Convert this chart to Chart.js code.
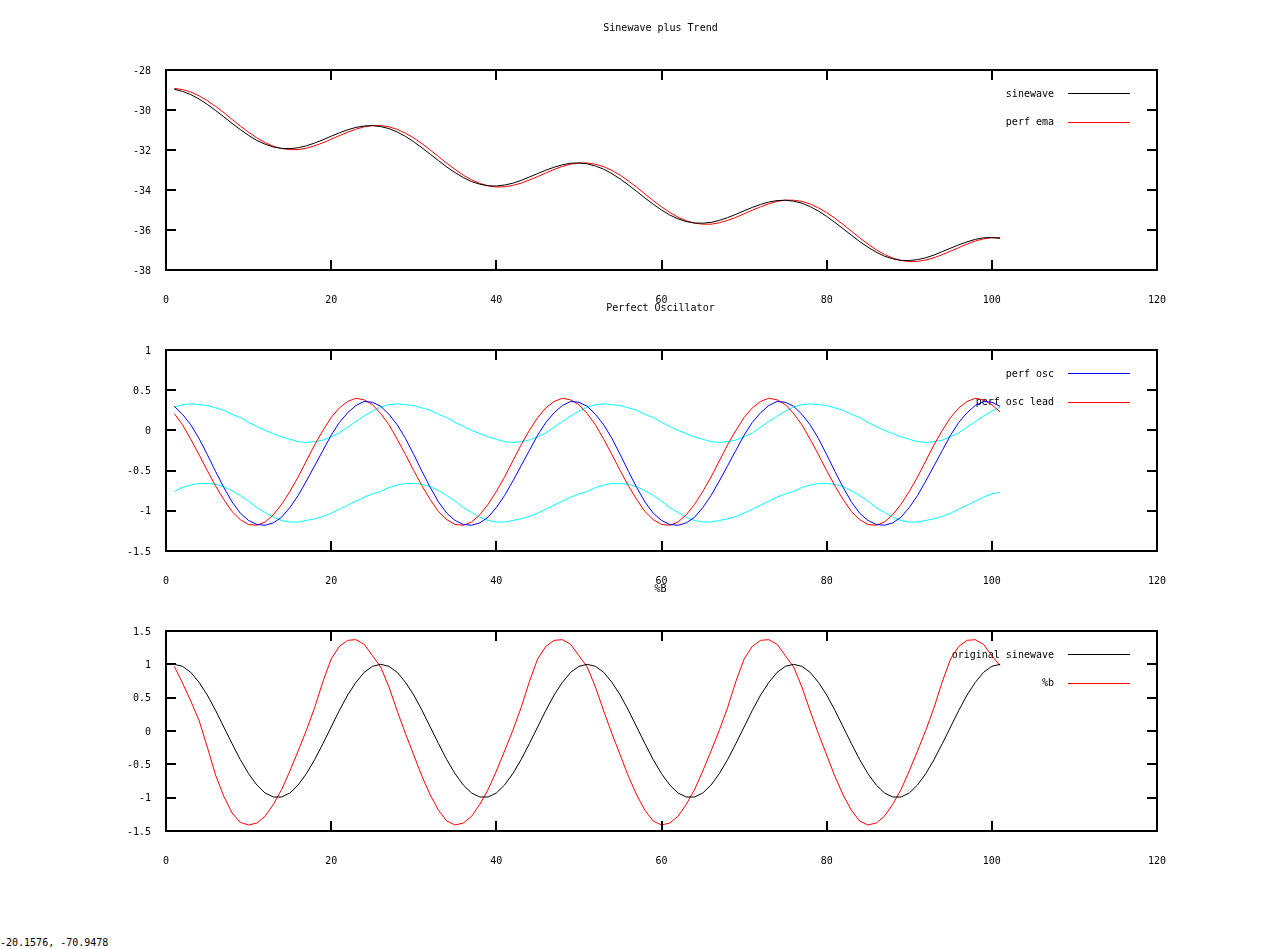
<!DOCTYPE html>
<html lang="en">
<head>
<meta charset="UTF-8">
<title>Sinewave plus Trend</title>
<script src="https://cdn.jsdelivr.net/npm/chart.js@4/dist/chart.umd.min.js"></script>
<style>
  html, body { margin: 0; padding: 0; background: #fff; }
  body { width: 1280px; height: 949px; position: relative; overflow: hidden; }
  canvas { position: absolute; left: 0; }
  #coords {
    position: absolute; left: 0; top: 937px;
    font: 10px "DejaVu Sans Mono", monospace; color: #000; white-space: pre;
  }
</style>
</head>
<body>
<canvas id="c1" width="1280" height="310" style="top:0px"></canvas>
<canvas id="c2" width="1280" height="300" style="top:290px"></canvas>
<canvas id="c3" width="1280" height="300" style="top:570px"></canvas>
<div id="coords">-20.1576, -70.9478</div>

<script>
// x positions of the samples (bar index)
var xValues = [1,2,3,4,5,6,7,8,9,10,11,12,13,14,15,16,17,18,19,20,21,22,23,24,25,
  26,27,28,29,30,31,32,33,34,35,36,37,38,39,40,41,42,43,44,45,46,47,48,49,50,
  51,52,53,54,55,56,57,58,59,60,61,62,63,64,65,66,67,68,69,70,71,72,73,74,75,
  76,77,78,79,80,81,82,83,84,85,86,87,88,89,90,91,92,93,94,95,96,97,98,99,100,101];

// Panel 1 : Sinewave plus Trend
var sinewave = [-28.96,-29.07,-29.23,-29.45,-29.72,-30.02,-30.34,-30.67,-30.98,-31.27,-31.52,-31.71,-31.85,-31.92,-31.93,-31.89,-31.79,-31.65,-31.49,-31.31,-31.14,-30.99,-30.87,-30.80,-30.78,
  -30.83,-30.93,-31.10,-31.32,-31.59,-31.89,-32.21,-32.53,-32.85,-33.13,-33.38,-33.58,-33.71,-33.79,-33.80,-33.75,-33.66,-33.52,-33.35,-33.18,-33.01,-32.86,-32.74,-32.66,-32.65,
  -32.69,-32.80,-32.96,-33.18,-33.45,-33.75,-34.07,-34.40,-34.71,-35.00,-35.25,-35.44,-35.58,-35.65,-35.66,-35.62,-35.52,-35.38,-35.22,-35.04,-34.87,-34.72,-34.60,-34.53,-34.51,
  -34.56,-34.66,-34.83,-35.05,-35.32,-35.62,-35.94,-36.26,-36.58,-36.86,-37.11,-37.31,-37.44,-37.52,-37.53,-37.48,-37.39,-37.25,-37.08,-36.91,-36.74,-36.59,-36.47,-36.39,-36.38,-36.42];
var perfEma = [-28.92,-28.98,-29.10,-29.29,-29.53,-29.82,-30.13,-30.47,-30.80,-31.11,-31.39,-31.63,-31.81,-31.93,-31.98,-31.98,-31.91,-31.79,-31.64,-31.46,-31.28,-31.11,-30.96,-30.84,-30.78,
  -30.78,-30.84,-30.97,-31.16,-31.40,-31.68,-32.00,-32.33,-32.66,-32.97,-33.26,-33.49,-33.67,-33.79,-33.85,-33.84,-33.77,-33.66,-33.50,-33.33,-33.15,-32.97,-32.82,-32.71,-32.65,
  -32.65,-32.71,-32.83,-33.02,-33.26,-33.55,-33.86,-34.20,-34.53,-34.84,-35.12,-35.36,-35.54,-35.66,-35.71,-35.71,-35.64,-35.52,-35.37,-35.19,-35.01,-34.84,-34.69,-34.57,-34.51,
  -34.51,-34.57,-34.70,-34.89,-35.13,-35.41,-35.73,-36.06,-36.39,-36.70,-36.99,-37.22,-37.40,-37.52,-37.58,-37.57,-37.50,-37.39,-37.23,-37.06,-36.88,-36.70,-36.55,-36.44,-36.38,-36.38];

// Panel 2 : Perfect Oscillator
var perfOsc = [0.30,0.20,0.07,-0.10,-0.30,-0.51,-0.71,-0.89,-1.03,-1.12,-1.17,-1.18,-1.15,-1.08,-0.96,-0.81,-0.63,-0.44,-0.25,-0.06,0.10,0.22,0.31,0.36,0.35,
  0.30,0.20,0.07,-0.10,-0.30,-0.51,-0.71,-0.89,-1.03,-1.12,-1.17,-1.18,-1.15,-1.08,-0.96,-0.81,-0.63,-0.44,-0.25,-0.06,0.10,0.22,0.31,0.36,0.35,
  0.30,0.20,0.07,-0.10,-0.30,-0.51,-0.71,-0.89,-1.03,-1.12,-1.17,-1.18,-1.15,-1.08,-0.96,-0.81,-0.63,-0.44,-0.25,-0.06,0.10,0.22,0.31,0.36,0.35,
  0.30,0.20,0.07,-0.10,-0.30,-0.51,-0.71,-0.89,-1.03,-1.12,-1.17,-1.18,-1.15,-1.08,-0.96,-0.81,-0.63,-0.44,-0.25,-0.06,0.10,0.22,0.31,0.36,0.35,0.30];
var perfOscLead = [0.21,0.07,-0.11,-0.30,-0.50,-0.69,-0.86,-1.01,-1.11,-1.17,-1.18,-1.14,-1.05,-0.92,-0.76,-0.58,-0.38,-0.18,0.00,0.16,0.28,0.36,0.40,0.38,0.32,
  0.21,0.07,-0.11,-0.30,-0.50,-0.69,-0.86,-1.01,-1.11,-1.17,-1.18,-1.14,-1.05,-0.92,-0.76,-0.58,-0.38,-0.18,0.00,0.16,0.28,0.36,0.40,0.38,0.32,
  0.21,0.07,-0.11,-0.30,-0.50,-0.69,-0.86,-1.01,-1.11,-1.17,-1.18,-1.14,-1.05,-0.92,-0.76,-0.58,-0.38,-0.18,0.00,0.16,0.28,0.36,0.40,0.38,0.32,
  0.21,0.07,-0.11,-0.30,-0.50,-0.69,-0.86,-1.01,-1.11,-1.17,-1.18,-1.14,-1.05,-0.92,-0.76,-0.58,-0.38,-0.18,0.00,0.16,0.28,0.36,0.40,0.38,0.32,0.23];
var upperBand = [0.29,0.32,0.33,0.32,0.31,0.28,0.25,0.20,0.16,0.10,0.05,0.00,-0.04,-0.08,-0.11,-0.14,-0.15,-0.14,-0.12,-0.08,-0.03,0.04,0.11,0.18,0.24,
  0.29,0.32,0.33,0.32,0.31,0.28,0.25,0.20,0.16,0.10,0.05,0.00,-0.04,-0.08,-0.11,-0.14,-0.15,-0.14,-0.12,-0.08,-0.03,0.04,0.11,0.18,0.24,
  0.29,0.32,0.33,0.32,0.31,0.28,0.25,0.20,0.16,0.10,0.05,0.00,-0.04,-0.08,-0.11,-0.14,-0.15,-0.14,-0.12,-0.08,-0.03,0.04,0.11,0.18,0.24,
  0.29,0.32,0.33,0.32,0.31,0.28,0.25,0.20,0.16,0.10,0.05,0.00,-0.04,-0.08,-0.11,-0.14,-0.15,-0.14,-0.12,-0.08,-0.03,0.04,0.11,0.18,0.24,0.29];
var lowerBand = [-0.76,-0.71,-0.68,-0.66,-0.66,-0.67,-0.70,-0.75,-0.81,-0.88,-0.96,-1.02,-1.08,-1.12,-1.14,-1.14,-1.12,-1.10,-1.07,-1.03,-0.98,-0.93,-0.88,-0.83,-0.79,
  -0.76,-0.71,-0.68,-0.66,-0.66,-0.67,-0.70,-0.75,-0.81,-0.88,-0.96,-1.02,-1.08,-1.12,-1.14,-1.14,-1.12,-1.10,-1.07,-1.03,-0.98,-0.93,-0.88,-0.83,-0.79,
  -0.76,-0.71,-0.68,-0.66,-0.66,-0.67,-0.70,-0.75,-0.81,-0.88,-0.96,-1.02,-1.08,-1.12,-1.14,-1.14,-1.12,-1.10,-1.07,-1.03,-0.98,-0.93,-0.88,-0.83,-0.79,
  -0.76,-0.71,-0.68,-0.66,-0.66,-0.67,-0.70,-0.75,-0.81,-0.88,-0.96,-1.02,-1.08,-1.12,-1.14,-1.14,-1.12,-1.10,-1.07,-1.03,-0.98,-0.93,-0.88,-0.83,-0.79,-0.77];

// Panel 3 : %B
var originalSinewave = [1,0.97,0.88,0.73,0.54,0.31,0.06,-0.19,-0.43,-0.64,-0.81,-0.93,-0.99,-0.99,-0.93,-0.81,-0.64,-0.43,-0.19,0.06,0.31,0.54,0.73,0.88,0.97,
  1,0.97,0.88,0.73,0.54,0.31,0.06,-0.19,-0.43,-0.64,-0.81,-0.93,-0.99,-0.99,-0.93,-0.81,-0.64,-0.43,-0.19,0.06,0.31,0.54,0.73,0.88,0.97,
  1,0.97,0.88,0.73,0.54,0.31,0.06,-0.19,-0.43,-0.64,-0.81,-0.93,-0.99,-0.99,-0.93,-0.81,-0.64,-0.43,-0.19,0.06,0.31,0.54,0.73,0.88,0.97,
  1,0.97,0.88,0.73,0.54,0.31,0.06,-0.19,-0.43,-0.64,-0.81,-0.93,-0.99,-0.99,-0.93,-0.81,-0.64,-0.43,-0.19,0.06,0.31,0.54,0.73,0.88,0.97,1];
var percentB = [0.97,0.72,0.45,0.16,-0.24,-0.66,-0.98,-1.23,-1.37,
  -1.41,-1.38,-1.28,-1.10,-0.88,-0.60,-0.30,0.01,0.35,0.74,1.08,1.27,1.36,1.37,1.30,1.13,0.96,0.66,0.30,-0.04,-0.36,-0.68,-0.96,-1.19,-1.35,
  -1.41,-1.38,-1.28,-1.10,-0.88,-0.60,-0.30,0.01,0.35,0.74,1.08,1.27,1.36,1.37,1.30,1.13,0.96,0.66,0.30,-0.04,-0.36,-0.68,-0.96,-1.19,-1.35,
  -1.41,-1.38,-1.28,-1.10,-0.88,-0.60,-0.30,0.01,0.35,0.74,1.08,1.27,1.36,1.37,1.30,1.13,0.96,0.66,0.30,-0.04,-0.36,-0.68,-0.96,-1.19,-1.35,
  -1.41,-1.38,-1.28,-1.10,-0.88,-0.60,-0.30,0.01,0.35,0.74,1.08,1.27,1.36,1.37,1.30,1.13,0.98];

var FONT = '"DejaVu Sans Mono", monospace';
Chart.defaults.font.family = FONT;
Chart.defaults.font.size = 10;
Chart.defaults.color = '#000';

/* Turn a value array into {x, y} points */
function points(values) {
  return values.map(function(v, i) { return { x: xValues[i], y: v }; });
}

/* Line dataset; an empty label keeps it out of the key */
function series(label, values, color) {
  return {
    label: label,
    data: points(values),
    borderColor: color,
    backgroundColor: color,
    borderWidth: 1,
    pointRadius: 0,
    tension: 0,
    fill: false
  };
}

/* gnuplot-like frame, inward ticks, title and key */
var gnuplotLook = {
  id: 'gnuplotLook',
  beforeDatasetsDraw: function(chart, args, opts) {
    var ctx = chart.ctx, a = chart.chartArea;
    var t = Math.round(a.top), r = Math.round(a.right);
    ctx.save();
    ctx.font = '10px ' + FONT;
    ctx.fillStyle = '#000';
    ctx.textBaseline = 'middle';

    // title
    ctx.textAlign = 'center';
    ctx.fillText(opts.title, (a.left + a.right) / 2 - 1, t - 42);

    // key (drawn under the curves, like the original)
    var row = 0;
    ctx.textAlign = 'right';
    chart.data.datasets.forEach(function(ds) {
      if (!ds.label) return;
      var y = t + 23 + row * 28.5;
      ctx.fillStyle = '#000';
      ctx.fillText(ds.label, r - 103, y + 1);
      ctx.strokeStyle = ds.borderColor;
      ctx.lineWidth = 1;
      ctx.beginPath();
      ctx.moveTo(r - 89, Math.round(y) + 0.5);
      ctx.lineTo(r - 27, Math.round(y) + 0.5);
      ctx.stroke();
      row++;
    });
    ctx.restore();
  },
  afterDatasetsDraw: function(chart) {
    var ctx = chart.ctx, a = chart.chartArea;
    var l = Math.round(a.left), r = Math.round(a.right), t = Math.round(a.top), b = Math.round(a.bottom);
    var xs = chart.scales.x, ys = chart.scales.y;
    ctx.save();
    ctx.strokeStyle = '#000';
    ctx.lineWidth = 2;
    ctx.beginPath();
    xs.ticks.forEach(function(tk) {
      var px = Math.round(xs.getPixelForValue(tk.value));
      ctx.moveTo(px, b); ctx.lineTo(px, b - 10);
      ctx.moveTo(px, t); ctx.lineTo(px, t + 10);
    });
    ys.ticks.forEach(function(tk) {
      var py = Math.round(ys.getPixelForValue(tk.value));
      ctx.moveTo(l, py); ctx.lineTo(l + 10, py);
      ctx.moveTo(r, py); ctx.lineTo(r - 10, py);
    });
    ctx.stroke();
    ctx.strokeRect(l, t, r - l, b - t);
    ctx.restore();
  }
};

/* Build one of the three panels */
function makePanel(canvasId, title, datasets, yMin, yMax, yStep, padTop, xAxisHeight) {
  return new Chart(document.getElementById(canvasId), {
    type: 'line',
    data: { datasets: datasets },
    options: {
      responsive: false,
      animation: false,
      devicePixelRatio: 1,
      layout: { padding: { left: 0, right: 123, top: padTop, bottom: 0 } },
      plugins: {
        legend: { display: false },
        tooltip: { enabled: false },
        gnuplotLook: { title: title }
      },
      scales: {
        x: {
          type: 'linear', min: 0, max: 120,
          ticks: { stepSize: 20, padding: 24, maxRotation: 0, autoSkip: false,
                   callback: function(v) { return String(v); } },
          grid: { display: false, drawTicks: false },
          border: { display: false },
          afterFit: function(s) { s.height = xAxisHeight; }
        },
        y: {
          type: 'linear', min: yMin, max: yMax,
          ticks: { stepSize: yStep, padding: 15, autoSkip: false, labelOffset: 1,
                   callback: function(v) { return String(v); } },
          grid: { display: false, drawTicks: false },
          border: { display: false },
          afterFit: function(s) { s.width = 166; }
        }
      }
    },
    plugins: [gnuplotLook]
  });
}

makePanel('c1', 'Sinewave plus Trend', [
  series('sinewave', sinewave, '#000000'),
  series('perf ema', perfEma, '#ff0000')
], -38, -28, 2, 70, 40);

makePanel('c2', 'Perfect Oscillator', [
  series('perf osc', perfOsc, '#0000ff'),
  series('perf osc lead', perfOscLead, '#ff0000'),
  series('', upperBand, '#00ffff'),
  series('', lowerBand, '#00ffff')
], -1.5, 1, 0.5, 60, 39);

makePanel('c3', '%B', [
  series('original sinewave', originalSinewave, '#000000'),
  series('%b', percentB, '#ff0000')
], -1.5, 1.5, 0.5, 61, 39);
</script>
</body>
</html>
